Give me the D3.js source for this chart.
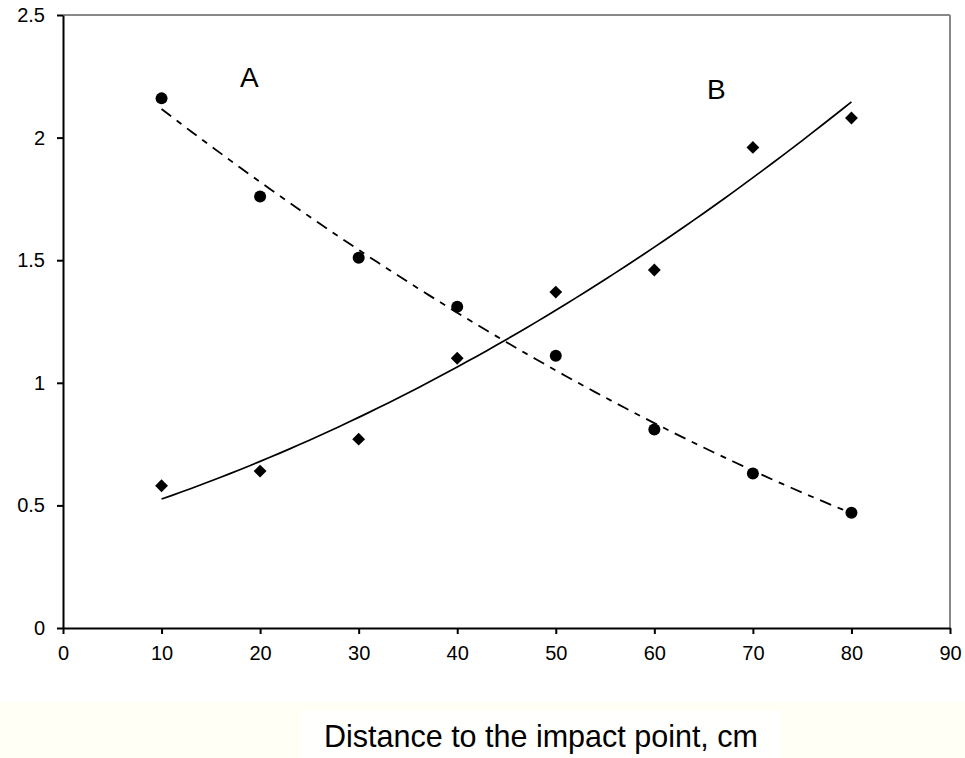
<!DOCTYPE html>
<html>
<head>
<meta charset="utf-8">
<script src="https://cdn.jsdelivr.net/npm/d3@7"></script>
<style>
  body { margin: 0; background: #fff; }
  svg { display: block; font-family: "Liberation Sans", Arial, sans-serif; }
</style>
</head>
<body>
<div class="chart"></div>
<script>
// distance, cm
const distances = [10, 20, 30, 40, 50, 60, 70, 80];
// series A (circles, dashed trend) and B (diamonds, solid trend)
const seriesA = [2.16, 1.76, 1.51, 1.31, 1.11, 0.81, 0.63, 0.47];
const seriesB = [0.58, 0.64, 0.77, 1.10, 1.37, 1.46, 1.96, 2.08];
const xTicks = [0, 10, 20, 30, 40, 50, 60, 70, 80, 90];
const yTicks = [0, 0.5, 1, 1.5, 2, 2.5];
const xTitle = "Distance to the impact point, cm";

const W = 965, H = 758;
const margin = {top: 15, left: 63, right: 15, bottom: 130};
const width = W - margin.left - margin.right,
    height = H - margin.top - margin.bottom;

const root = d3.select('.chart').append('svg')
    .attr("width", W)
    .attr("height", H);

// pale band behind the axis title
root.append("rect")
    .attr("x", 0).attr("y", 702)
    .attr("width", W).attr("height", H - 702)
    .attr("fill", "#fffff5");
root.append("rect")
    .attr("x", 301).attr("y", 710)
    .attr("width", 479).attr("height", H - 710)
    .attr("fill", "#fffffd");

const svg = root.append("g")
    .attr("transform", `translate(${margin.left},${margin.top})`);

const xScale = d3.scaleLinear().domain([0, 90]).range([0, width]);
const yScale = d3.scaleLinear().domain([0, 2.5]).range([height, 0]);

// least squares quadratic trend
function quadFit(xs, ys) {
    let s = [0, 0, 0, 0, 0], t = [0, 0, 0];
    xs.forEach((x, i) => {
        for (let k = 0; k < 5; k++) s[k] += Math.pow(x, k);
        for (let k = 0; k < 3; k++) t[k] += ys[i] * Math.pow(x, k);
    });
    const M = [[s[0], s[1], s[2], t[0]], [s[1], s[2], s[3], t[1]], [s[2], s[3], s[4], t[2]]];
    for (let i = 0; i < 3; i++) {
        for (let j = i + 1; j < 3; j++) {
            const f = M[j][i] / M[i][i];
            for (let k = i; k < 4; k++) M[j][k] -= f * M[i][k];
        }
    }
    const c = [0, 0, 0];
    for (let i = 2; i >= 0; i--) {
        let v = M[i][3];
        for (let k = i + 1; k < 3; k++) v -= M[i][k] * c[k];
        c[i] = v / M[i][i];
    }
    return x => c[0] + c[1] * x + c[2] * x * x;
}

const fitA = quadFit(distances, seriesA);
const fitB = quadFit(distances, seriesB);
const xs = d3.range(10, 80.01, 1);

const line = d3.line()
    .x(d => xScale(d[0]))
    .y(d => yScale(d[1]));

svg.append("path")
    .datum(xs.map(x => [x, fitA(x)]))
    .attr("fill", "none")
    .attr("stroke", "black")
    .attr("stroke-width", 1.8)
    .attr("stroke-dasharray", "12,7,6,7")
    .attr("d", line);

svg.append("path")
    .datum(xs.map(x => [x, fitB(x)]))
    .attr("fill", "none")
    .attr("stroke", "black")
    .attr("stroke-width", 1.7)
    .attr("d", line);

svg.selectAll("circle.a")
    .data(distances)
    .enter()
    .append("circle")
    .attr("class", "a")
    .attr("cx", d => xScale(d))
    .attr("cy", (d, i) => yScale(seriesA[i]))
    .attr("r", 6)
    .attr("fill", "black");

svg.selectAll("path.b")
    .data(distances)
    .enter()
    .append("path")
    .attr("class", "b")
    .attr("d", d3.symbol().type(d3.symbolDiamond2).size(105))
    .attr("transform", (d, i) => `translate(${xScale(d)},${yScale(seriesB[i])})`)
    .attr("fill", "black");

// frame: top and right in grey
svg.append("line")
    .attr("x1", 0).attr("x2", width).attr("y1", 0).attr("y2", 0)
    .attr("stroke", "#888").attr("stroke-width", 2);
svg.append("line")
    .attr("x1", width).attr("x2", width).attr("y1", 0).attr("y2", height)
    .attr("stroke", "#888").attr("stroke-width", 2);

const xAxis = d3.axisBottom(xScale)
    .tickValues(xTicks)
    .tickSize(6)
    .tickSizeOuter(0)
    .tickPadding(12)
    .tickFormat(d3.format("d"));

const yAxis = d3.axisLeft(yScale)
    .tickValues(yTicks)
    .tickSize(6)
    .tickSizeOuter(0)
    .tickPadding(12)
    .tickFormat(d => String(d));

svg.append("g")
    .attr("class", "axis x-axis")
    .attr("transform", `translate(0,${height})`)
    .call(xAxis);

svg.append("g")
    .attr("class", "axis y-axis")
    .call(yAxis);

svg.selectAll(".axis .domain").attr("stroke", "black").attr("stroke-width", 2);
svg.selectAll(".axis .tick line").attr("stroke", "black").attr("stroke-width", 2);
svg.selectAll(".axis text")
    .attr("font-family", "Liberation Sans, Arial, sans-serif")
    .attr("font-size", 20)
    .attr("fill", "black");

svg.append("text")
    .attr("x", xScale(18.9))
    .attr("y", 72)
    .attr("text-anchor", "middle")
    .attr("font-size", 28)
    .text("A");

svg.append("text")
    .attr("x", xScale(66.3))
    .attr("y", 84)
    .attr("text-anchor", "middle")
    .attr("font-size", 28)
    .text("B");

root.append("text")
    .attr("x", 541)
    .attr("y", 747)
    .attr("text-anchor", "middle")
    .attr("font-size", 30.5)
    .attr("fill", "black")
    .text(xTitle);
</script>
</body>
</html>
